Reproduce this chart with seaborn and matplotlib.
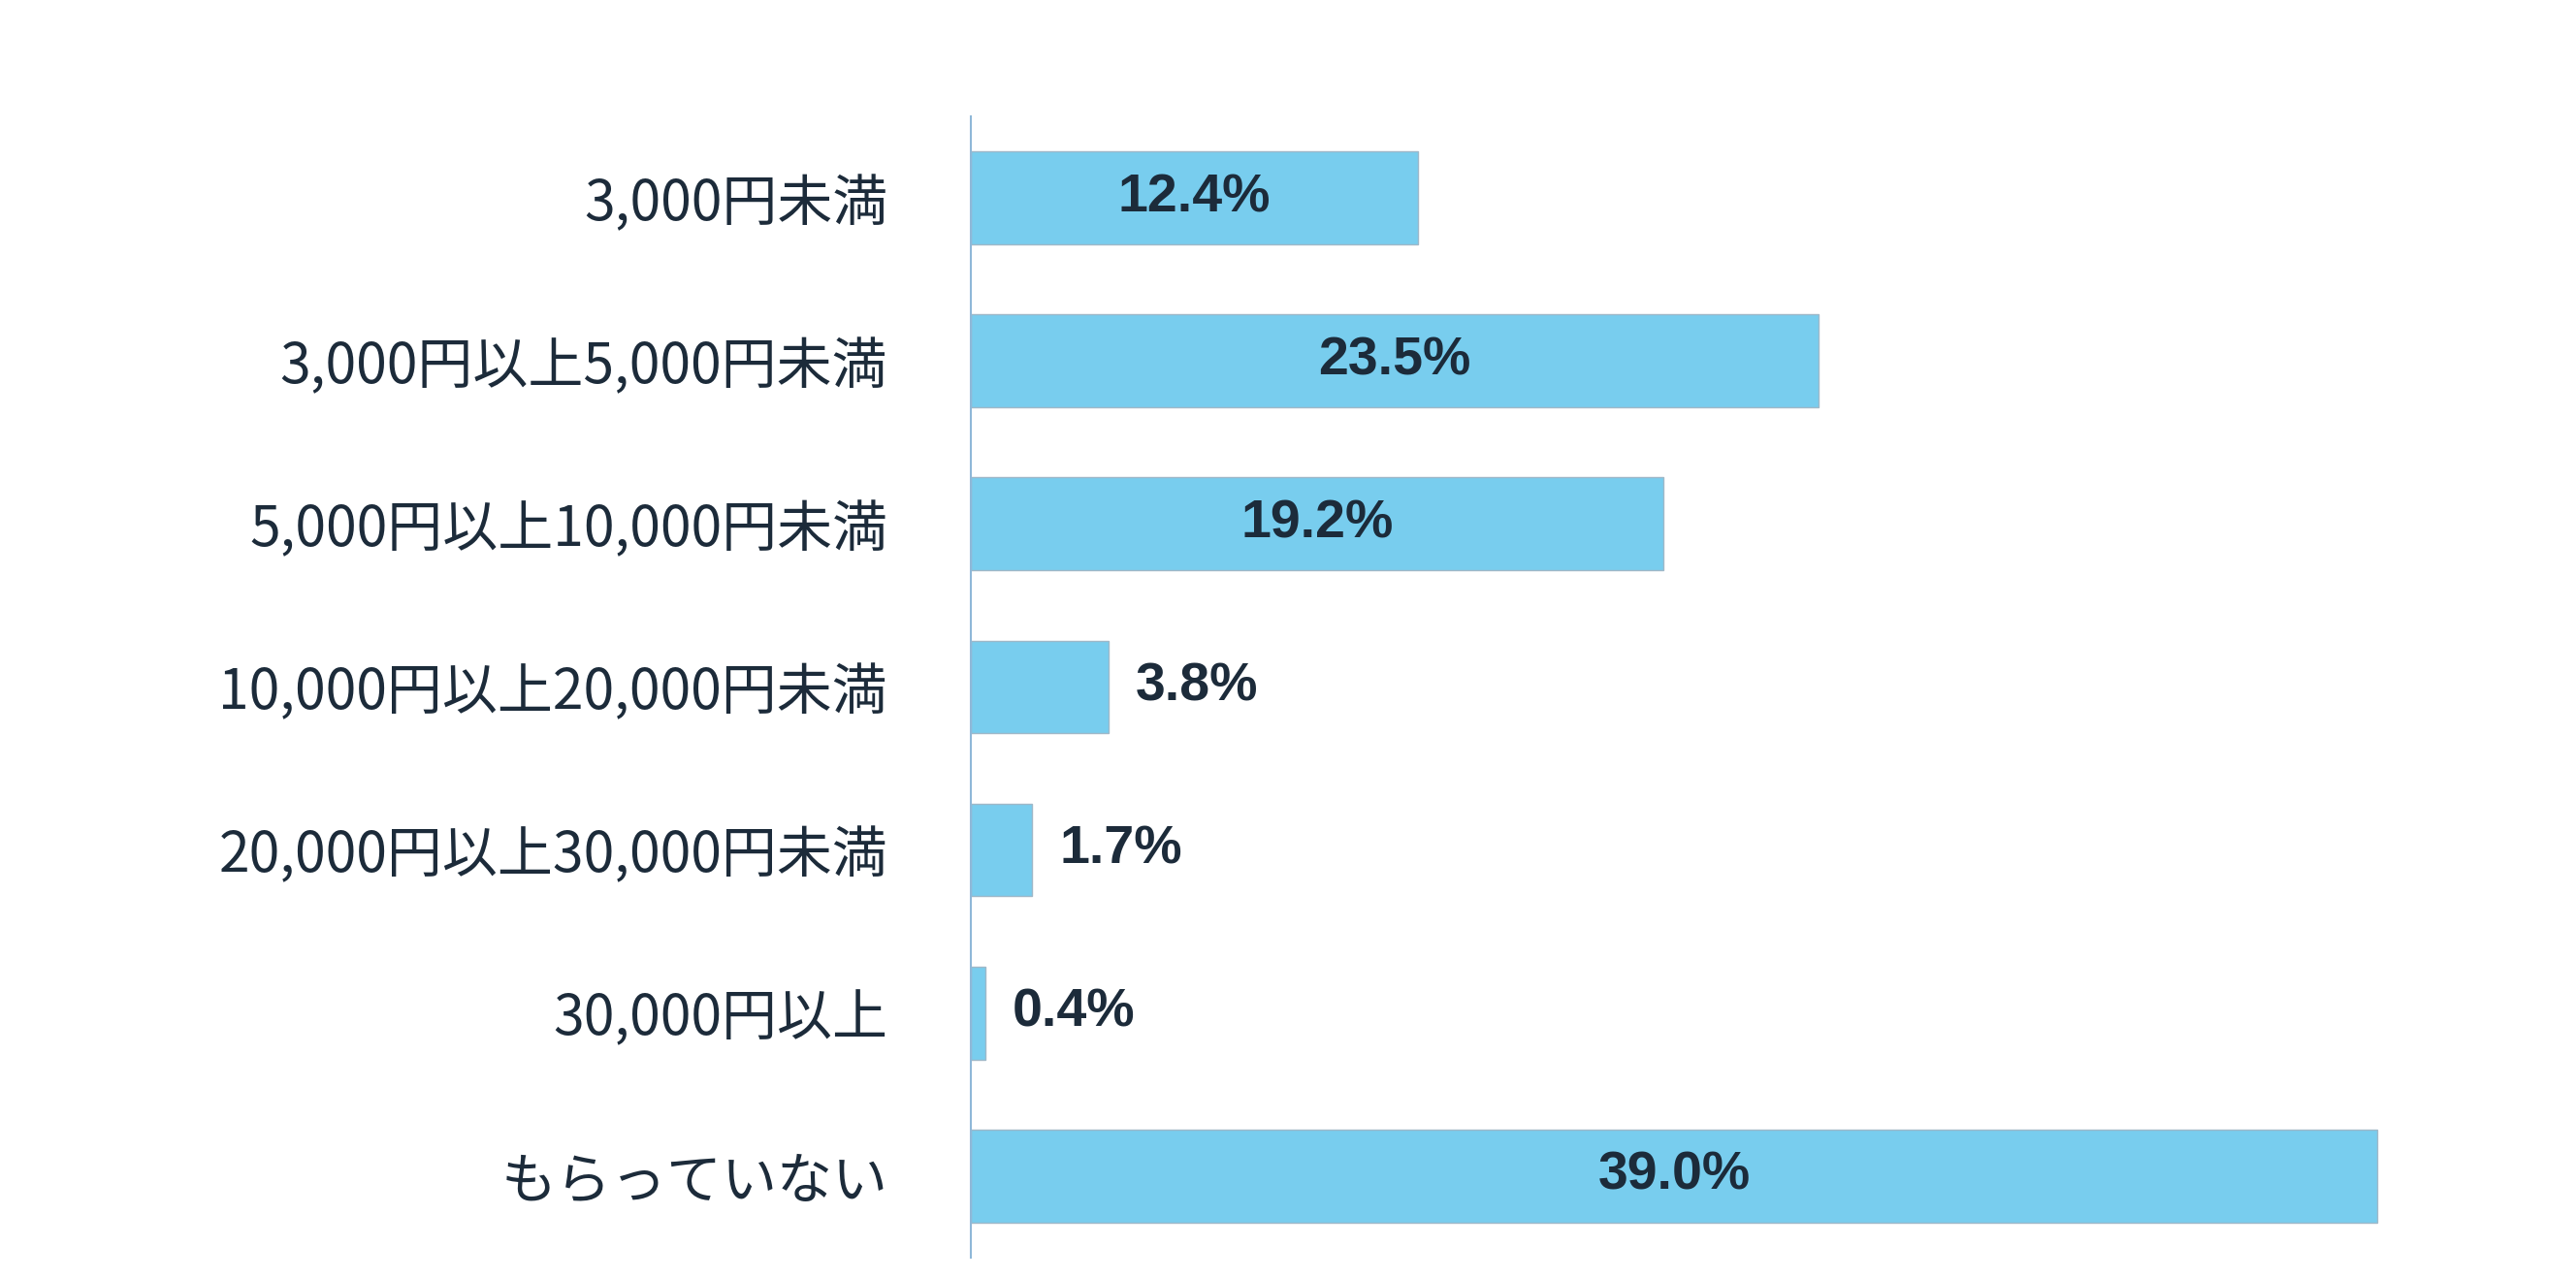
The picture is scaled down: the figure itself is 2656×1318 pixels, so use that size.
import matplotlib
matplotlib.use("Agg")
import matplotlib.pyplot as plt
import pandas as pd
import seaborn as sns

categories = ["3,000円未満", "3,000円以上5,000円未満", "5,000円以上10,000円未満",
              "10,000円以上20,000円未満", "20,000円以上30,000円未満", "30,000円以上", "もらっていない"]
values = [12.4, 23.5, 19.2, 3.8, 1.7, 0.4, 39.0]

df = pd.DataFrame({"cat": categories, "val": values})
text_color = "#1c2b3a"

fig = plt.figure(figsize=(26.56, 13.18), dpi=100)
ax = fig.add_axes([0.377, 0.016, 0.603, 0.893])
sns.barplot(data=df, x="val", y="cat", color="#78cdee", width=0.57,
            edgecolor="#9fb8c8", linewidth=1, saturation=1, ax=ax)

ax.set_xlim(0, 43.1)
ax.set_ylim(6.5, -0.5)
ax.set_xlabel("")
ax.set_ylabel("")
ax.set_xticks([])
for s in ["top", "right", "bottom"]:
    ax.spines[s].set_visible(False)
ax.spines["left"].set_color("#8fb8d8")
ax.spines["left"].set_linewidth(1.5)
ax.tick_params(axis="y", length=0, pad=62)
for lbl in ax.get_yticklabels():
    lbl.set_fontfamily("Noto Sans CJK JP")
    lbl.set_fontsize(41)
    lbl.set_color(text_color)

for i, v in enumerate(values):
    txt = f"{v:.1f}%"
    if v > 8:
        ax.text(v / 2, i, txt, ha="center", va="center", fontsize=40,
                fontweight="bold", family="Liberation Sans", color=text_color)
    else:
        ax.text(v + 0.75, i, txt, ha="left", va="center", fontsize=40,
                fontweight="bold", family="Liberation Sans", color=text_color)

fig.savefig("out.png", dpi=100)
